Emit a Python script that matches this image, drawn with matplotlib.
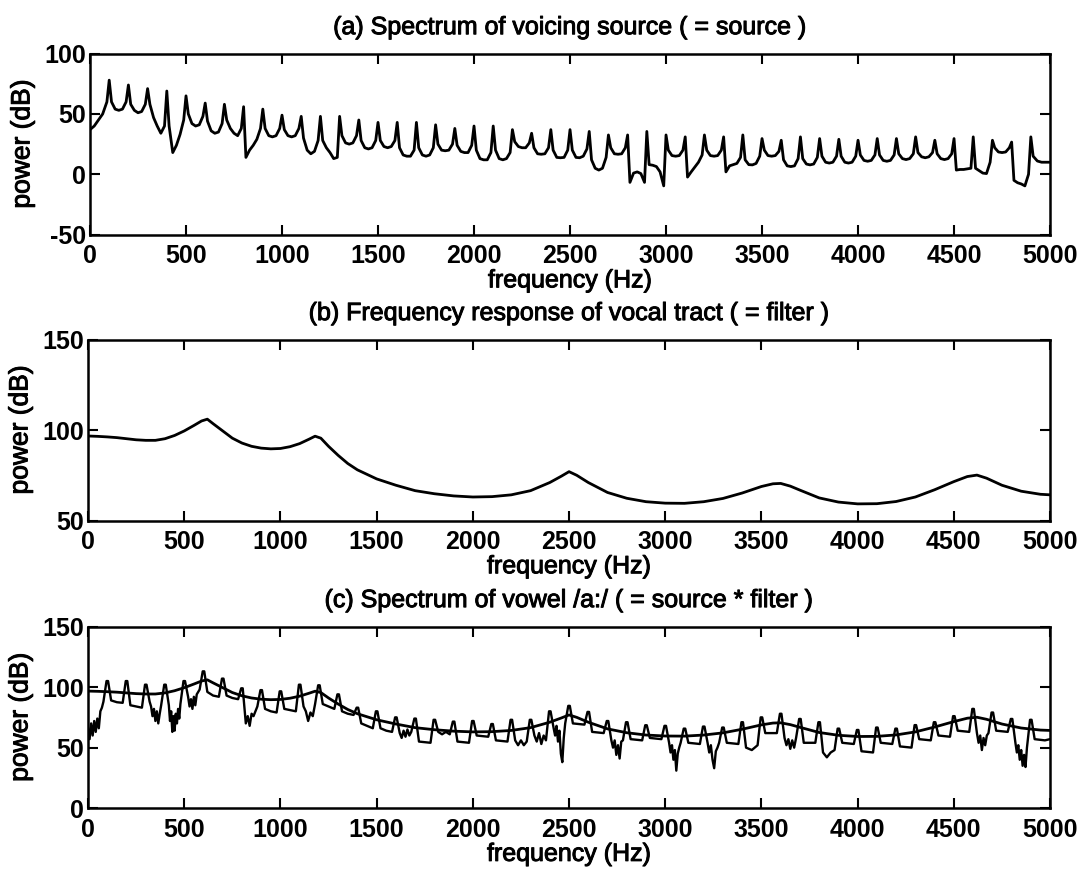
import numpy as np
import matplotlib
matplotlib.use("Agg")
import matplotlib.pyplot as plt
import matplotlib.patheffects as pe

# harmonic frequencies of the 100 Hz voice (Hz)
harm_hz = list(range(100, 5000, 100))

# ---------------------------------------------------------------
# (a) spectrum of the voicing source
# peak level at every harmonic, and the levels of the curve in the
# gap before the first harmonic and after each harmonic (dB)
# ---------------------------------------------------------------
src_peak_db = [78, 74, 71, 69, 65, 59, 58, 56, 54, 49,
               48, 48, 48, 45, 43, 43, 43, 41, 38, 40,
               40, 37, 34, 37, 37, 35.5, 32.6, 32.6, 35.5, 32.6,
               31, 32.6, 31, 32.6, 29.6, 28.2, 31, 29.6, 29, 28.2,
               29.6, 29.6, 31, 28.2, 29.6, 31, 28.2, 26.7, 31]
src_gap_db = [[37, 40, 45, 50, 60],
              [60, 54, 53, 54, 60], [58, 53, 51, 52, 58], [58, 47, 40, 34, 40],
              [40, 18, 24, 33, 45], [50, 42, 40, 41, 48], [44, 36, 34, 35, 42],
              [45, 38, 34, 32, 38], [14, 20, 24, 29, 38], [38, 32, 31, 32, 38],
              [37, 32, 31, 32, 38], [30, 20, 17, 19, 28], [28, 22, 18, 13, 14],
              [32, 26, 25, 26, 32], [28, 22, 21, 22, 28], [28, 23, 22, 23, 28],
              [22, 16, 15, 15, 20], [22, 16, 15, 16, 22], [25, 20, 19.5, 20, 25],
              [24, 19, 18, 18, 24], [20, 13, 12, 12, 18], [20, 13, 12, 13, 18],
              [27, 23, 22, 22, 26], [22, 17, 16.6, 17, 22], [20, 14, 13.7, 14, 20],
              [20, 14, 13.7, 15, 21], [12, 5, 3.5, 5, 14], [22, 17, 16.6, 17, 22],
              [-6.7, 1, 2, 0.6, -6.7], [8, 7.5, 6.4, 2, -9.6], [20, 15.5, 15, 15.5, 20],
              [-2.3, 2, 6, 10, 16], [20, 15.5, 15, 15.5, 20], [2, 7, 8, 9, 14],
              [12, 8, 7.8, 9, 15], [20, 15.5, 15, 15.5, 19], [12, 7, 6.4, 7, 13],
              [13, 8.5, 7.8, 8.5, 14], [15, 10, 9.3, 10, 15], [15, 10, 9.3, 10, 15],
              [16, 11.5, 10.8, 11.5, 16], [16, 11.5, 10.8, 11.5, 16], [17, 13, 12.2, 13, 17],
              [18, 14.5, 13.7, 14.5, 18], [17, 13, 12.2, 13, 17], [3.5, 4, 4, 4.5, 5],
              [5, 3, 1, 0.6, 10], [22, 18.5, 18, 18.5, 22], [-5, -7, -8, -9.6, 0],
              [15, 11, 10, 10, 10]]

# ---------------------------------------------------------------
# (b) frequency response of the vocal tract (formant envelope)
# ---------------------------------------------------------------
tract_hz = [0, 50, 100, 150, 200, 250, 300, 350, 400, 450,
            500, 550, 590, 620, 650, 700, 750, 800, 850, 900,
            950, 1000, 1050, 1100, 1150, 1180, 1210, 1250, 1300, 1350,
            1400, 1450, 1500, 1600, 1700, 1800, 1900, 2000, 2100, 2200,
            2300, 2400, 2460, 2500, 2540, 2600, 2700, 2800, 2900, 3000,
            3100, 3200, 3300, 3400, 3500, 3560, 3600, 3650, 3700, 3800,
            3900, 4000, 4100, 4200, 4300, 4400, 4500, 4570, 4620, 4670,
            4750, 4850, 4950, 5000]
tract_db = [96.7, 96.5, 96.2, 95.8, 95.2, 94.6, 94.3, 94.3, 95.2, 97.0,
            99.5, 102.5, 105, 106, 103.5, 99.5, 95.5, 92.8, 91, 90,
            89.6, 89.8, 90.8, 92.5, 95, 96.6, 95.5, 91, 86, 81.5,
            78, 75.5, 73, 69.5, 66.5, 64.8, 63.6, 63, 63.2, 64.2,
            66.5, 71, 74.5, 77, 75, 71, 65.5, 62.3, 60.4, 59.6,
            59.5, 60.4, 62.2, 65.2, 68.8, 70.3, 70.5, 69, 66.8, 62.5,
            60.2, 59.2, 59.3, 60.5, 63, 67, 71.5, 74.3, 75.1, 73.4,
            69.5, 66.2, 64.5, 64.2]

# ---------------------------------------------------------------
# (c) spectrum of the vowel /a:/ : harmonic peaks and the (often
# noisy) levels between them (dB)
# ---------------------------------------------------------------
vow_peak_db = [105, 105, 102, 102, 105, 113, 107, 99, 97.5, 96.5,
               102, 101.5, 94, 83, 80, 75, 74, 73, 71.5, 72,
               69.5, 73, 73, 80, 84.5, 79.5, 72, 71, 68.5, 68,
               65.7, 67.4, 66.6, 71, 75, 78, 73.7, 71, 65.7, 64.6,
               66.6, 65.7, 68.6, 71, 76, 82, 79, 73.7, 73]
vow_gap_db = [[66, 57, 70, 60, 72, 63, 74, 66, 80, 83, 88],
              [89, 87.5, 87], [85, 84, 83],
              [88, 84, 76, 82, 72, 80, 70, 78, 85],
              [85, 72, 80, 63, 76, 64, 78, 70, 82, 74, 86],
              [92, 84, 90, 82, 92, 85, 94, 96, 98],
              [96, 93, 92], [93, 91, 90],
              [70, 76, 68, 78, 76, 80, 84],
              [82, 80, 79], [82, 81, 80],
              [84, 80, 72, 79, 76, 86],
              [86, 84, 82], [80, 78, 77], [70, 68, 66], [66, 64, 63],
              [62, 58, 64, 59, 65, 60, 63],
              [55, 54.5, 54], [63, 61, 63, 61], [55, 54.5, 54], [60, 59.5, 59],
              [56, 55.5, 55],
              [56, 52, 56, 52, 55],
              [60, 55, 62, 53, 60, 56],
              [66, 60, 68, 55, 64, 45, 38, 58, 70],
              [70, 69.5, 69], [63, 62.5, 62],
              [56, 50, 56, 44, 52, 41, 55, 56],
              [57, 56.5, 56], [58, 57.5, 57],
              [54, 46, 52, 40, 48, 31, 45, 50, 54],
              [54, 53.5, 53],
              [54, 46, 52, 40, 33, 47, 50, 54],
              [54, 53.5, 53], [50, 48, 52], [62, 62, 62],
              [58, 52, 57, 49, 56, 50, 58],
              [54, 54, 54], [46, 42, 46, 48], [54, 53.5, 53], [47, 46.5, 46],
              [54, 53.5, 53], [51, 50.5, 50], [57, 56.5, 56], [60, 59.5, 59],
              [64, 63.5, 63],
              [62, 54, 60, 48, 58, 52, 60, 62],
              [64, 63.5, 63],
              [54, 46, 52, 40, 48, 35, 44, 34, 50],
              [57, 56.5, 56, 57]]

freq_ticks = [0, 500, 1000, 1500, 2000, 2500, 3000, 3500, 4000, 4500, 5000]


def harmonic_line(peaks, gaps, edge, top):
    # lay the gap levels out between the harmonics, peaks on the harmonics
    hz, db = [], []
    for k, vals in enumerate(gaps):
        lo = 0 if k == 0 else harm_hz[k - 1] + edge
        hi = 5000 if k == len(harm_hz) else harm_hz[k] - edge
        hz += list(np.linspace(lo, hi, len(vals)))
        db += vals
        if k < len(harm_hz):
            if top:
                hz += [harm_hz[k] - top, harm_hz[k] + top]
                db += [peaks[k], peaks[k]]
            else:
                hz.append(harm_hz[k])
                db.append(peaks[k])
    return hz, db


plt.rcParams['font.family'] = ['Liberation Sans', 'DejaVu Sans']
plt.rcParams['axes.unicode_minus'] = False

thick = [pe.withStroke(linewidth=0.7, foreground='black')]

fig = plt.figure(figsize=(10.87, 8.69), dpi=100)

# left, bottom, width, height for the three stacked panels
boxes = [[0.0828, 0.7300, 0.8832, 0.2083],
         [0.0810, 0.4010, 0.8850, 0.2083],
         [0.0810, 0.0700, 0.8850, 0.2090]]
titles = ["(a) Spectrum of voicing source ( = source )",
          "(b) Frequency response of vocal tract ( = filter )",
          "(c) Spectrum of vowel /a:/ ( = source * filter )"]
ylims = [(-50, 100), (50, 150), (0, 150)]
yticks = [[-50, 0, 50, 100], [50, 100, 150], [0, 50, 100, 150]]

axes = []
for box, title, ylim, yt in zip(boxes, titles, ylims, yticks):
    ax = fig.add_axes(box)
    ax.set_xlim(0, 5000)
    ax.set_ylim(*ylim)
    ax.set_xticks(freq_ticks)
    ax.set_yticks(yt)
    ax.tick_params(direction='in', top=True, right=True, length=7, width=1.5,
                   labelsize=18)
    ax.tick_params(axis='x', pad=7)
    ax.tick_params(axis='y', pad=3)
    for lab in ax.get_xticklabels() + ax.get_yticklabels():
        lab.set_fontweight('bold')
    for sp in ax.spines.values():
        sp.set_linewidth(1.8)
    ax.set_xlabel("frequency (Hz)", fontsize=18, labelpad=0, path_effects=thick)
    ax.set_ylabel("power (dB)", fontsize=19, labelpad=7, path_effects=thick)
    ax.set_title(title, fontsize=18, pad=14, path_effects=thick)
    axes.append(ax)

src_hz, src_db = harmonic_line(src_peak_db, src_gap_db, 12, 0)
vow_hz, vow_db = harmonic_line(vow_peak_db, vow_gap_db, 20, 4)

axes[0].plot(src_hz, src_db, color='black', lw=2.0, solid_joinstyle='round')
axes[1].plot(tract_hz, tract_db, color='black', lw=2.0, solid_joinstyle='round')
axes[2].plot(vow_hz, vow_db, color='black', lw=1.7, solid_joinstyle='round')
axes[2].plot(tract_hz, tract_db, color='black', lw=2.0, solid_joinstyle='round')

fig.savefig("out.png", dpi=100)
